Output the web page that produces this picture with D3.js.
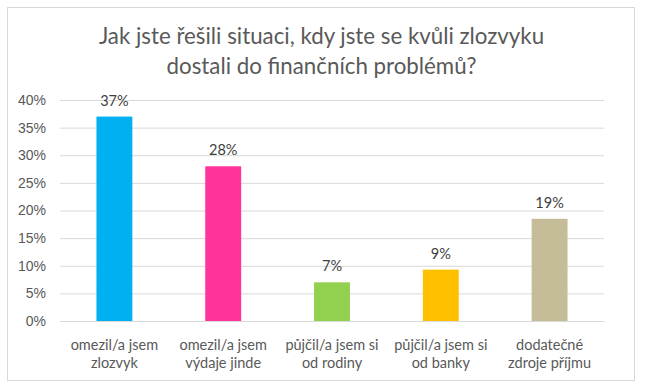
<!DOCTYPE html>
<html lang="cs">
<head>
<meta charset="UTF-8">
<title>zlozvyk</title>
<script src="https://cdn.jsdelivr.net/npm/d3@7"></script>
<style>
  body { margin: 0; background: #fff; }
  svg { font-family: Lato, "Open Sans", sans-serif; }
</style>
</head>
<body>
<svg id="viz" width="648" height="392"></svg>
<script>
const categories = [
  ["omezil/a jsem", "zlozvyk"],
  ["omezil/a jsem", "výdaje jinde"],
  ["půjčil/a jsem si", "od rodiny"],
  ["půjčil/a jsem si", "od banky"],
  ["dodatečné", "zdroje příjmu"]
];
const values = [0.37, 0.28, 0.07, 0.093, 0.185];
const valueLabels = ["37%", "28%", "7%", "9%", "19%"];
const colors = ["#00B0F0", "#FF3399", "#92D050", "#FFC000", "#C4BD97"];
const yTicks = [0, 0.05, 0.10, 0.15, 0.20, 0.25, 0.30, 0.35, 0.40];
const titleLines = ["Jak jste řešili situaci, kdy jste se kvůli zlozvyku", "dostali do finančních problémů?"];

const svg = d3.select("#viz");
const margin = {left: 60, right: 44, top: 100, bottom: 71};
const W = 648, H = 392;

// chart frame
svg.append("rect")
  .attr("x", 7.5).attr("y", 7.5)
  .attr("width", 627).attr("height", 373)
  .attr("fill", "#fff")
  .attr("stroke", "#D9D9D9");

const x = d3.scaleBand()
  .domain(d3.range(categories.length))
  .range([margin.left, W - margin.right])
  .paddingInner(0.67)
  .paddingOuter(0.335);

const y = d3.scaleLinear()
  .domain([0, 0.4])
  .range([H - margin.bottom, margin.top]);

// title
svg.append("g").selectAll("text")
  .data(titleLines)
  .join("text")
    .attr("x", 321.5)
    .attr("y", (d, i) => 44 + i * 30)
    .attr("text-anchor", "middle")
    .attr("font-size", 22.3)
    .attr("fill", "#595959")
    .text(d => d);

// gridlines + y labels
const yAxis = d3.axisLeft(y)
  .tickValues(yTicks)
  .tickSize(-(W - margin.left - margin.right))
  .tickPadding(14)
  .tickFormat(d3.format(".0%"));

const gy = svg.append("g")
  .attr("transform", `translate(${margin.left},0)`)
  .call(yAxis);
gy.select(".domain").remove();
gy.selectAll(".tick line").attr("stroke", "#D9D9D9");
gy.selectAll(".tick text")
  .attr("font-size", 14)
  .attr("fill", "#595959")
  .attr("font-family", null);

// bars
svg.append("g").selectAll("rect")
  .data(values)
  .join("rect")
    .attr("x", (d, i) => x(i))
    .attr("y", d => y(d))
    .attr("width", x.bandwidth())
    .attr("height", d => y(0) - y(d))
    .attr("fill", (d, i) => colors[i]);

// value labels
svg.append("g").selectAll("text")
  .data(values)
  .join("text")
    .attr("x", (d, i) => x(i) + x.bandwidth() / 2)
    .attr("y", d => y(d) - 11)
    .attr("text-anchor", "middle")
    .attr("font-size", 14.5)
    .attr("fill", "#404040")
    .text((d, i) => valueLabels[i]);

// x axis
const gx = svg.append("g")
  .attr("transform", `translate(0,${y(0)})`)
  .call(d3.axisBottom(x).tickSize(0).tickFormat(""));
gx.select(".domain").attr("stroke", "#D9D9D9");

svg.append("g").selectAll("text")
  .data(categories)
  .join("text")
    .attr("x", (d, i) => x(i) + x.bandwidth() / 2)
    .attr("y", y(0) + 29)
    .attr("text-anchor", "middle")
    .attr("font-size", 14.5)
    .attr("fill", "#595959")
    .selectAll("tspan")
    .data(d => d)
    .join("tspan")
      .attr("x", function() { return this.parentNode.getAttribute("x"); })
      .attr("dy", (d, i) => i === 0 ? 0 : 18)
      .text(d => d);
</script>
</body>
</html>
